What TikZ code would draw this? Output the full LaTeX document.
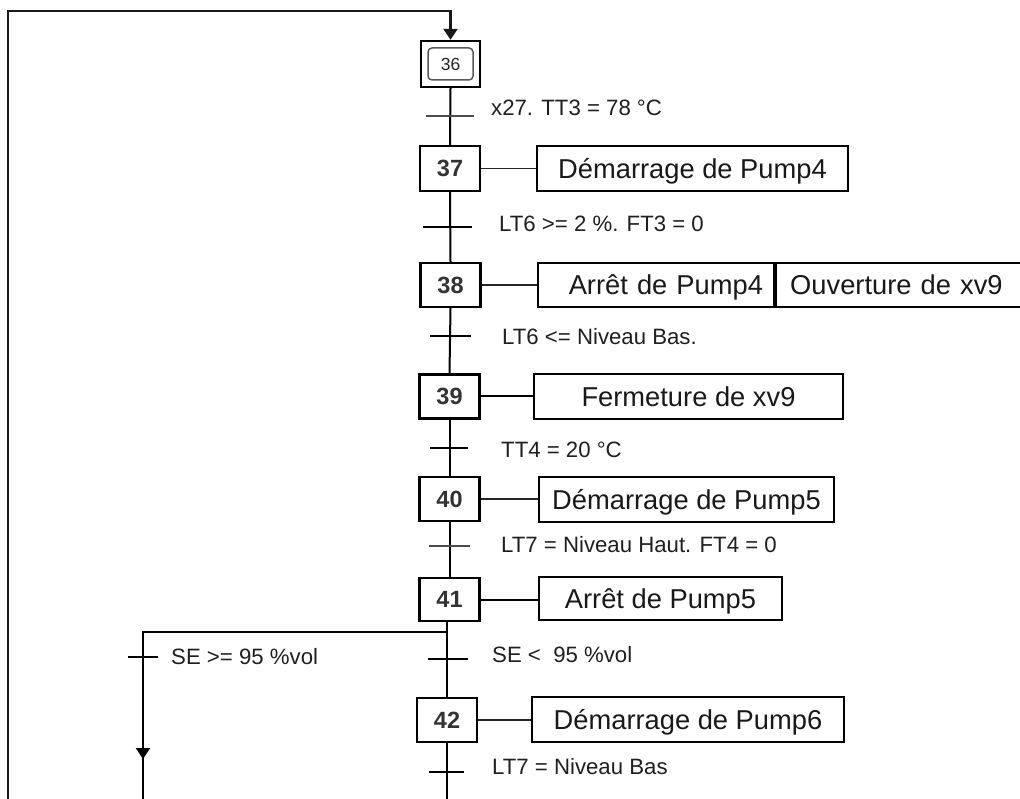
\documentclass[tikz,border=0pt]{standalone}
\usepackage{fontspec}
\setmainfont{Liberation Sans}
\usetikzlibrary{arrows.meta}
\begin{document}
\begin{tikzpicture}[x=1pt,y=-1pt,
  flow/.style={line width=2pt,black},
  loopline/.style={line width=2.5pt,black!90},
  stepbox/.style={draw,line width=2.2pt,minimum width=60pt,minimum height=44pt,
    inner sep=0pt,text height=16.6pt,text depth=0pt,text=black!80,
    font=\fontsize{23.5}{26}\selectfont\bfseries},
  initbox/.style={draw,line width=2.4pt,minimum width=59pt,minimum height=46pt,inner sep=0pt},
  initin/.style={draw=black!65,line width=1.5pt,rounded corners=4pt,minimum width=45pt,
    minimum height=32pt,inner sep=0pt,text height=12.4pt,text depth=0pt,text=black!85,
    font=\fontsize{17.5}{20}\selectfont},
  actbox/.style={draw,line width=2.2pt,minimum height=44pt,inner sep=0pt,
    text height=19.5pt,text depth=0pt,text=black!90,font=\fontsize{27.3}{30}\selectfont},
  cond/.style={anchor=west,inner sep=0pt,text height=15.9pt,text depth=0pt,
    text=black!88,font=\fontsize{22.2}{26}\selectfont},
  linkthin/.style={line width=1.2pt,black!85},
  linkthick/.style={line width=2pt,black},
  tickthick/.style={line width=2pt,black},
  tickthin/.style={line width=1.3pt,black!70},
  tip/.style={-{Triangle[width=14pt,length=11pt]}}
]
\fill[white] (0,0) rectangle (1020,799);
\useasboundingbox (0,0) rectangle (1020,799);

% initial step
\node[initbox] (s36) at (450.5,64) {};
\node[initin] (s36n) at (s36) {36};

% steps
\node[stepbox,minimum height=45pt] (s37) at (450,168.5) {37};
\node[stepbox] (s38) at (450.5,285) {38};
\node[stepbox] (s39) at (449.5,396.5) {39};
\node[stepbox] (s40) at (449.5,499) {40};
\node[stepbox,minimum height=43pt] (s41) at (449.5,599.5) {41};
\node[stepbox] (s42) at (447,720) {42};

% actions
\node[actbox,minimum width=311pt,minimum height=45pt] (a37) at (692.5,168.5) {Démarrage de Pump4};
\node[actbox,minimum width=236pt,text width=214pt,align=right,inner xsep=11pt] (a38a) at (656,285) {Arrêt de Pump4};
\node[actbox,anchor=west,text width=228pt,align=left,inner xsep=14pt] (a38b) at (a38a.east) {Ouverture de xv9};
\node[actbox,minimum width=309pt,minimum height=45pt] (a39) at (688.5,396.5) {Fermeture de xv9};
\node[actbox,minimum width=295pt,minimum height=45pt] (a40) at (686.5,499.5) {Démarrage de Pump5};
\node[actbox,minimum width=243pt,minimum height=43pt] (a41) at (660.5,598.5) {Arrêt de Pump5};
\node[actbox,minimum width=312pt,minimum height=45pt] (a42) at (688,719.5) {Démarrage de Pump6};

% step-to-action links
\draw[linkthin]  (s37.east) -- (s37.east -| a37.west);
\draw[linkthin]  (s38.east) -- (s38.east -| a38a.west);
\draw[linkthick] (s39.east) -- (s39.east -| a39.west);
\draw[linkthin]  (s40.east) -- (s40.east -| a40.west);
\draw[linkthick] (s41.east) -- (s41.east -| a41.west);
\draw[linkthin]  (s42.east) -- (s42.east -| a42.west);

% free ends and branch points
\coordinate (loopfoot) at (8,805);
\coordinate (loopcorner) at (8,11);
\coordinate (div) at (447,632);
\coordinate (branch) at (143,632);
\coordinate (branchtip) at (143,759);
\coordinate (branchfoot) at (143,805);
\coordinate (mainfoot) at (447,805);

% return loop into the initial step
\draw[loopline,tip] (loopfoot) -- (loopcorner) -| (s36.north);

% main sequence
\draw[flow] (s36.south) -- (s37.north);
\draw[flow] (s37.south) -- (s38.north);
\draw[flow] (s38.south) -- (s39.north);
\draw[flow] (s39.south) -- (s40.north);
\draw[flow] (s40.south) -- (s41.north);
\draw[flow] (s42.north |- s41.south) -- (s42.north);
\draw[flow] (s42.south) -- (mainfoot);

% alternative branch
\draw[flow] (div) -- (branch) -- (branchfoot);
\draw[flow,tip] (branch) -- (branchtip);

% transitions
\coordinate (t36) at (450,116);
\coordinate (t37) at (447.5,227);
\coordinate (t38) at (450.5,336);
\coordinate (t39) at (449,448);
\coordinate (t40) at (449.5,546);
\coordinate (t41r) at (448,659);
\coordinate (t41l) at (143,657);
\coordinate (t42) at (446.5,772);
\draw[tickthin]  ([xshift=-24pt]t36) -- ([xshift=24pt]t36);
\draw[tickthick] ([xshift=-24.5pt]t37) -- ([xshift=24.5pt]t37);
\draw[tickthick] ([xshift=-20.5pt]t38) -- ([xshift=20.5pt]t38);
\draw[tickthick] ([xshift=-19pt]t39) -- ([xshift=19pt]t39);
\draw[tickthin]  ([xshift=-20.5pt]t40) -- ([xshift=20.5pt]t40);
\draw[tickthick] ([xshift=-20pt]t41r) -- ([xshift=20pt]t41r);
\draw[tickthick] ([xshift=-15pt]t41l) -- ([xshift=15pt]t41l);
\draw[tickthick] ([xshift=-17.5pt]t42) -- ([xshift=17.5pt]t42);

% receptivities
\node[cond] (c36) at (491,108) {x27. TT3 = 78 °C};
\node[cond] (c37) at (499,224) {LT6 >= 2 \%. FT3 = 0};
\node[cond] (c38) at (502,337) {LT6 <= Niveau Bas.};
\node[cond] (c39) at (501,450) {TT4 = 20 °C};
\node[cond] (c40) at (501,545) {LT7 = Niveau Haut. FT4 = 0};
\node[cond] (c41l) at (171,657) {SE >= 95 \%vol};
\node[cond] (c41r) at (492,655) {SE <~ 95 \%vol};
\node[cond] (c42) at (492,767) {LT7 = Niveau Bas};
\end{tikzpicture}
\end{document}
